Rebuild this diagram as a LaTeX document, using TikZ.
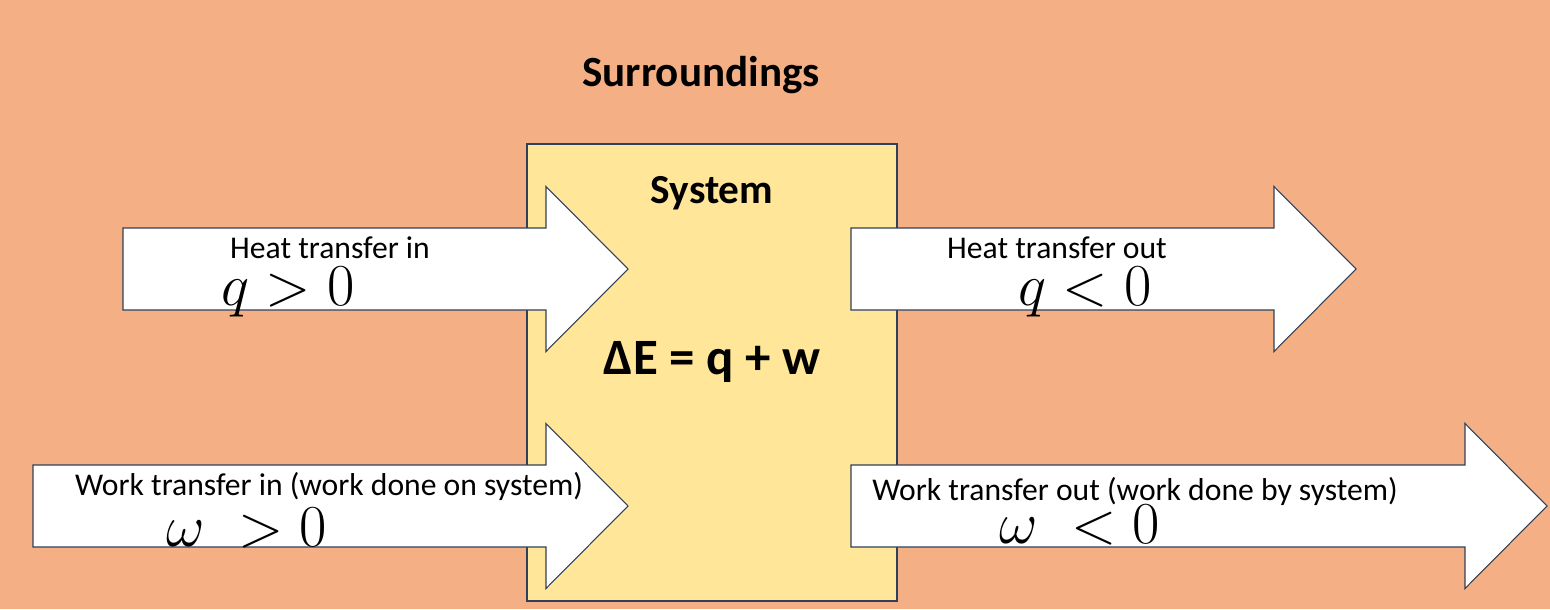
\documentclass[tikz,border=0pt]{standalone}
\usepackage{fontspec}
\setmainfont{Carlito}
\usetikzlibrary{calc}

\definecolor{entorno}{RGB}{244,176,132}
\definecolor{sistema}{RGB}{255,230,153}
\definecolor{borde}{RGB}{47,64,90}

% flecha gruesa: cola, base de la punta, punta, altura
\newcommand{\flechota}[4]{%
  \draw[flecha] (#1,#4+0.82) -- (#2,#4+0.82) -- (#2,#4+1.65) -- (#3,#4)
    -- (#2,#4-1.65) -- (#2,#4-0.82) -- (#1,#4-0.82) -- cycle;}
% signo a mano (agrandado)
\newcommand{\amano}[1]{\scalebox{1.36}{$#1$}}

\begin{document}
\begin{tikzpicture}[line width=0.6pt,
  flecha/.style={draw=borde,fill=white},
  rotulo/.style={font=\fontsize{18}{20}\selectfont,inner sep=0pt},
  mano/.style={font=\fontsize{24}{24}\selectfont,anchor=base,inner sep=0pt},
  titulo/.style={font=\fontsize{24.5}{28}\selectfont\bfseries,inner sep=0pt}]
  % entorno
  \fill[entorno] (0,0) rectangle (31,-12.18);
  \useasboundingbox (0,0) rectangle (31,-12.18);
  \node[titulo] (surr) at (14.02,-1.5) {Surroundings};
  % sistema
  \draw[draw=borde,fill=sistema] (10.54,-2.88) rectangle (17.94,-12.02);
  \node[titulo,font=\fontsize{23.5}{28}\selectfont\bfseries] (sys) at (14.24,-3.86) {System};
  \node[titulo,font=\fontsize{29}{32}\selectfont\bfseries] (balance) at (14.24,-7.24) {ΔE = q + w};
  % calor
  \flechota{2.46}{10.92}{12.56}{-5.38}
  \flechota{17.02}{25.48}{27.12}{-5.38}
  \node[rotulo] (qin) at (6.6,-4.96) {Heat transfer in};
  \node[rotulo] (qout) at (21.14,-4.96) {Heat transfer out};
  \node[mano] (qpos) at (5.76,-6.1) {\amano{q>0}};
  \node[mano] (qneg) at (21.7,-6.1) {\amano{q<0}};
  % trabajo
  \flechota{0.66}{10.92}{12.56}{-10.12}
  \flechota{17.02}{29.3}{30.94}{-10.12}
  \node[rotulo] (win) at (6.58,-9.72) {Work transfer in (work done on system)};
  \node[rotulo] (wout) at (22.7,-9.82) {Work transfer out (work done by system)};
  \node[mano] (wpos) at (4.94,-10.92) {\amano{\omega\;>0}};
  \node[mano] (wneg) at (21.6,-10.86) {\amano{\omega\;<0}};
\end{tikzpicture}
\end{document}
